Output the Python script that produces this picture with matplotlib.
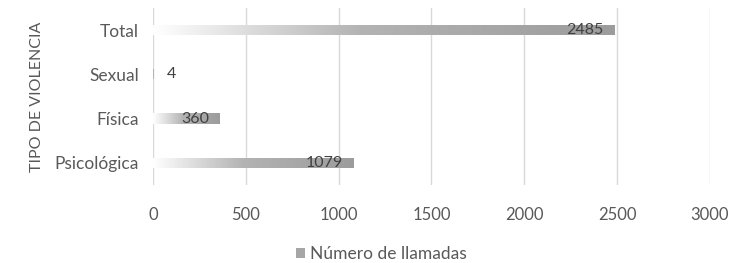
import numpy as np
import matplotlib
matplotlib.use("Agg")
import matplotlib.pyplot as plt
from matplotlib.patches import Patch
from matplotlib.colors import LinearSegmentedColormap

categories = ["Psicológica", "Física", "Sexual", "Total"]
values = [1079, 360, 4, 2485]
xticks = [0, 500, 1000, 1500, 2000, 2500, 3000]
series_name = "Número de llamadas"
ylabel = "TIPO DE VIOLENCIA"

plt.rcParams['font.family'] = ['Lato', 'DejaVu Sans']
text_color = "#595959"
fs = 11.5

fig = plt.figure(figsize=(7.33, 2.63), dpi=100)
ax = fig.add_axes([0.2087, 0.2966, 0.7599, 0.6734])

ypos = np.arange(len(categories))
bars = ax.barh(ypos, values, height=0.23, color="none", edgecolor="none", zorder=3)

cmap = LinearSegmentedColormap.from_list(
    "g", [(0.0, "#ffffff"), (0.45, "#b3b3b3"), (1.0, "#9c9c9c")])
grad = np.linspace(0, 1, 256).reshape(1, -1)
for b, v in zip(bars, values):
    x0, y0 = b.get_x(), b.get_y()
    w, h = b.get_width(), b.get_height()
    if w <= 0:
        continue
    im = ax.imshow(grad, cmap=cmap, aspect="auto",
                   extent=[x0, x0 + w, y0, y0 + h], zorder=3, interpolation="bilinear")
    im.set_clip_path(b)

for y, v in zip(ypos, values):
    if v > 200:
        ax.text(v - 57, y, str(v), ha="right", va="center",
                fontsize=fs, color="#404040", zorder=4)
    else:
        ax.text(v + 70, y, str(v), ha="left", va="center", fontsize=fs, color="#404040", zorder=4)

ax.set_xlim(0, 3000)
ax.set_ylim(-0.5, 3.5)
ax.set_xticks(xticks)
ax.set_xticklabels([str(t) for t in xticks])
ax.set_yticks(ypos)
ax.set_yticklabels(categories)
ax.tick_params(axis="both", length=0, colors=text_color)
ax.tick_params(axis="x", pad=16, labelsize=12)
ax.tick_params(axis="y", pad=10, labelsize=12.5)
ax.grid(axis="x", color="#d9d9d9", linewidth=1, zorder=0)
ax.set_axisbelow(True)
for s in ax.spines.values():
    s.set_visible(False)

ax.set_ylabel(ylabel, fontsize=fs, color=text_color, labelpad=8)

fig.legend(handles=[Patch(facecolor="#a6a6a6", edgecolor="none", label=series_name)],
           loc="center", bbox_to_anchor=(0.52, 0.035), frameon=False, fontsize=12.5,
           handlelength=0.5, handleheight=0.5, handletextpad=0.3, labelcolor=text_color,
           borderpad=0.2)

fig.savefig("out.png", dpi=100)
